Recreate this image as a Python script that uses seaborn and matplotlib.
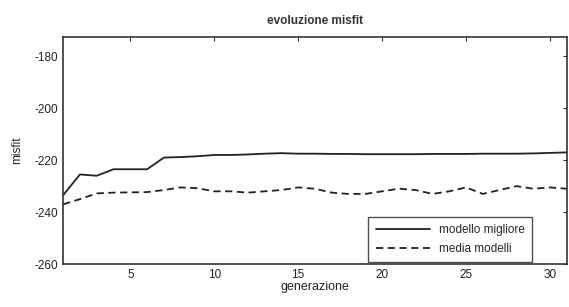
import numpy as np
import pandas as pd
import matplotlib
matplotlib.use("Agg")
import matplotlib.pyplot as plt
import seaborn as sns

# values
generazione = list(range(1, 32))
modello_migliore = [-233.5, -225.5, -226.0, -223.5, -223.5, -223.5, -219.0, -218.8, -218.5, -218.0,
                    -218.0, -217.8, -217.5, -217.3, -217.5, -217.5, -217.6, -217.6, -217.7, -217.7,
                    -217.7, -217.7, -217.6, -217.6, -217.6, -217.5, -217.5, -217.5, -217.4, -217.2,
                    -217.0]
media_modelli = [-237.0, -235.0, -232.8, -232.5, -232.4, -232.3, -231.5, -230.5, -230.8, -232.0,
                 -232.0, -232.5, -232.0, -231.5, -230.5, -231.0, -232.5, -233.0, -233.0, -232.0,
                 -231.0, -231.5, -233.0, -232.0, -230.5, -233.0, -231.5, -230.0, -231.0, -230.5,
                 -231.0]
y_ticks = [-180, -200, -220, -240, -260]
x_ticks = [5, 10, 15, 20, 25, 30]

df = pd.DataFrame({
    "generazione": generazione * 2,
    "misfit": modello_migliore + media_modelli,
    "serie": ["modello migliore"] * len(generazione) + ["media modelli"] * len(generazione),
})

sns.set_style("white")
plt.rcParams["font.family"] = ["Liberation Sans", "DejaVu Sans"]
plt.rcParams["axes.unicode_minus"] = False

fig = plt.figure(figsize=(5.69, 3.07), dpi=100)
ax = fig.add_axes([0.111, 0.14, 0.885, 0.74])

sns.lineplot(data=df, x="generazione", y="misfit", style="serie",
             dashes={"modello migliore": "", "media modelli": (4, 2.5)},
             color="#222222", linewidth=1.3, ax=ax)

ax.set_xlim(1, 31)
ax.set_ylim(-260, -172.5)
ax.set_xticks(x_ticks)
ax.set_yticks(y_ticks)
ax.tick_params(direction="in", length=3, labelsize=8.5, top=True, right=True,
               color="#333333", labelcolor="#222222")
for s in ax.spines.values():
    s.set_color("#333333")
    s.set_linewidth(1.2)

ax.set_title("evoluzione misfit", fontsize=8.5, fontweight="bold", color="#333333", pad=9)
ax.set_xlabel("generazione", fontsize=9, color="#222222", labelpad=0)
ax.set_ylabel("misfit", fontsize=8.5, color="#222222", labelpad=8)

leg = ax.legend(loc="lower right", bbox_to_anchor=(0.935, 0.0), fontsize=8.5,
                frameon=True, fancybox=False, edgecolor="#222222",
                handlelength=4.6, borderaxespad=0.15, borderpad=0.6, labelspacing=0.6)
leg.get_frame().set_linewidth(1.0)

fig.savefig("out.png", dpi=100)
